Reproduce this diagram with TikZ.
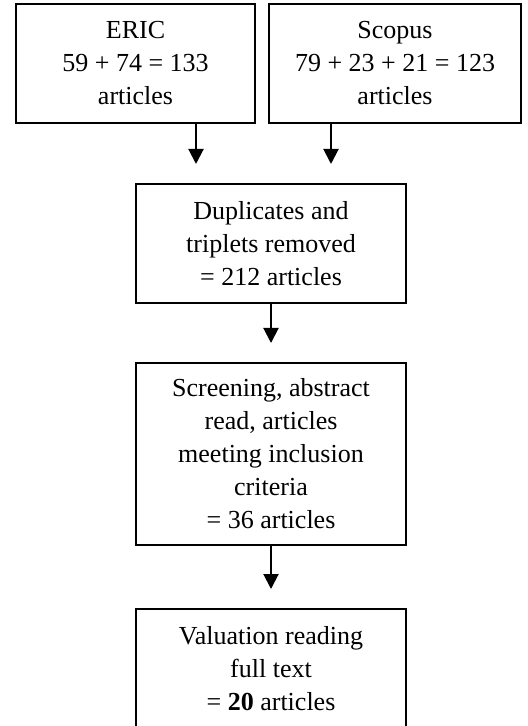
\documentclass[tikz,border=0pt]{standalone}
\usepackage{fontspec}
\setmainfont{Liberation Serif}
\usetikzlibrary{arrows.meta}
\begin{document}
\begin{tikzpicture}[x=0.5pt,y=-0.5pt,
    box/.style={draw,line width=1pt,align=center,inner sep=0pt,
        font=\fontsize{13}{16.5}\selectfont},
    arr/.style={line width=1pt,-{Triangle[length=7.5pt,width=7.5pt]},shorten >=9.5pt}]
  \useasboundingbox (0,0) rectangle (528,726);
  % sources
  \node[box,minimum width=119.5pt,minimum height=59.5pt] (eric) at (135.5,63.5)
      {ERIC\\59 + 74 = 133\\articles};
  \node[box,minimum width=126pt,minimum height=59.5pt] (scopus) at (395,63.5)
      {Scopus\\79 + 23 + 21 = 123\\articles};
  % steps
  \node[box,minimum width=135pt,minimum height=59.5pt] (dup) at (271,243.5)
      {Duplicates and\\triplets removed\\= 212 articles};
  \node[box,minimum width=135pt,minimum height=91pt] (screen) at (271,454)
      {Screening, abstract\\read, articles\\meeting inclusion\\criteria\\= 36 articles};
  \node[box,minimum width=135pt,minimum height=59.5pt] (valuation) at (271,668.5)
      {Valuation reading\\full text\\= \textbf{20} articles};
  % arrows
  \coordinate (xa) at (196,0);
  \coordinate (xb) at (331,0);
  \draw[arr] (eric.south -| xa) -- (dup.north -| xa);
  \draw[arr] (scopus.south -| xb) -- (dup.north -| xb);
  \draw[arr] (dup) -- (screen);
  \draw[arr] (screen) -- (valuation);
\end{tikzpicture}
\end{document}
